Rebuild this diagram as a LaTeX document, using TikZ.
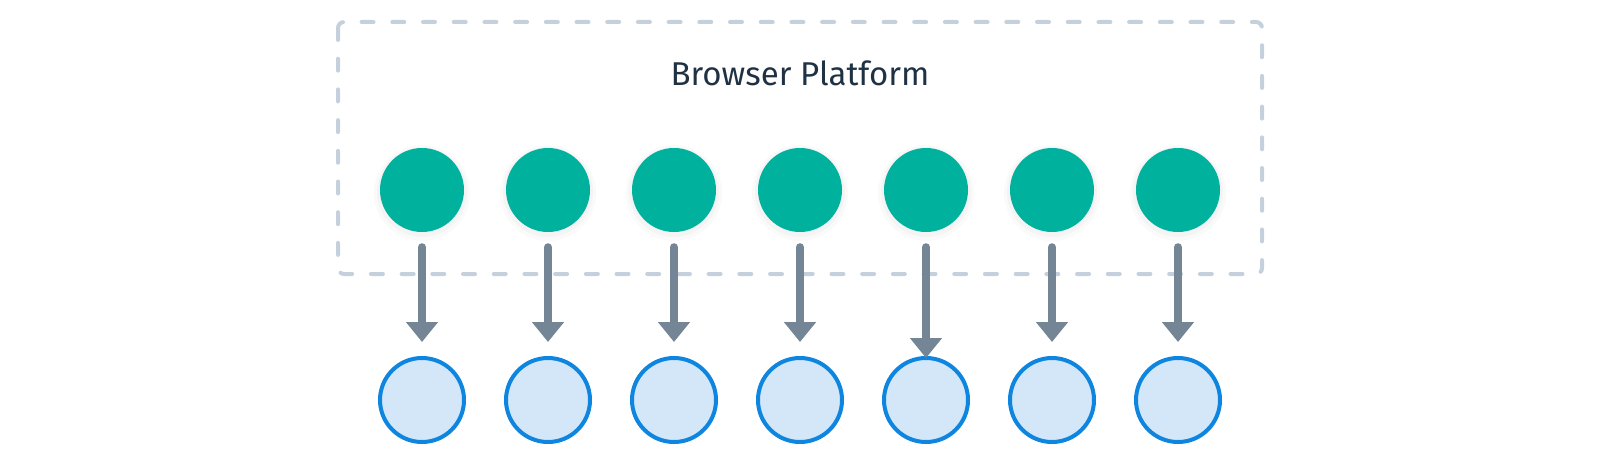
\documentclass[tikz,border=0pt]{standalone}
\usepackage{fontspec}
\setmainfont{Fira Sans}
\usetikzlibrary{arrows.meta}
\definecolor{tealc}{RGB}{0,177,158}
\definecolor{lbfill}{RGB}{212,231,249}
\definecolor{lbline}{RGB}{14,134,224}
\definecolor{arrowc}{RGB}{116,133,150}
\definecolor{dashc}{RGB}{196,209,220}
\definecolor{textc}{RGB}{31,50,68}
\begin{document}
\begin{tikzpicture}[x=1pt,y=-1pt,
  greendot/.style={circle,fill=tealc,minimum size=84pt,inner sep=0pt},
  bluedot/.style={circle,fill=lbfill,draw=lbline,line width=4pt,minimum size=84pt,inner sep=0pt},
  flow/.style={draw=arrowc,line width=8pt,line cap=round,-{Triangle[width=31pt,length=20pt]},shorten <=15pt,shorten >=14pt},
  platform/.style={draw=dashc,line width=4pt,line cap=round,dash pattern=on 12pt off 18.7pt,rounded corners=6pt}]
\useasboundingbox (0,0) rectangle (1600,468);
\draw[platform] (338,22) rectangle (1262,274);
\node[text=textc,font=\fontsize{33}{40}\selectfont] (title) at (800,73) {Browser Platform};
\foreach \i in {1,...,7}{
  \pgfmathsetmacro{\xx}{296+126*\i}
  \fill[black,opacity=0.02] (\xx,193) circle (48pt);
  \fill[black,opacity=0.025] (\xx,192) circle (45pt);
  \node[greendot] (g\i) at (\xx,190) {};
  \node[bluedot] (b\i) at (\xx,400) {};
}
\foreach \i in {1,2,3,4,6,7}{
  \draw[flow] (g\i) -- (b\i);
}
\draw[flow,shorten >=-2pt] (g5) -- (b5);
\end{tikzpicture}
\end{document}
